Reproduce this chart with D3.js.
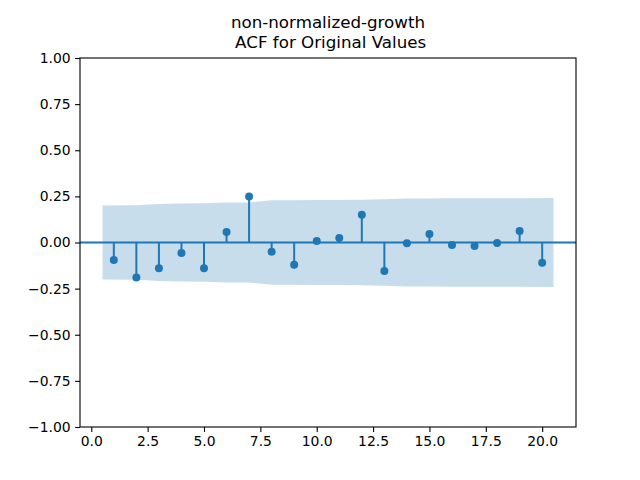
<!DOCTYPE html>
<html>
<head>
<meta charset="utf-8">
<script src="https://cdn.jsdelivr.net/npm/d3@7"></script>
<style>
  body { margin: 0; background: #fff; }
  text { font-family: "DejaVu Sans", sans-serif; white-space: pre; }
</style>
</head>
<body>
<div id="chart"></div>
<script>
// data
var lags = [1, 2, 3, 4, 5, 6, 7, 8, 9, 10, 11, 12, 13, 14, 15, 16, 17, 18, 19, 20];
var acfValues = [-0.095, -0.19, -0.14, -0.057, -0.14, 0.057, 0.25, -0.05, -0.12, 0.008,
                 0.024, 0.15, -0.155, -0.004, 0.046, -0.014, -0.019, -0.003, 0.062, -0.11];
// half width of the confidence band at each lag
var bandValues = [0.200, 0.202, 0.209, 0.212, 0.213, 0.217, 0.217, 0.229, 0.229, 0.231,
                  0.231, 0.232, 0.235, 0.239, 0.239, 0.240, 0.240, 0.240, 0.240, 0.241];
var xTicks = [0, 2.5, 5, 7.5, 10, 12.5, 15, 17.5, 20];
var yTicks = [-1, -0.75, -0.5, -0.25, 0, 0.25, 0.5, 0.75, 1];
var titleLines = ["non-normalized-growth", " ACF for Original Values"];

var width = 640, height = 480;
var margin = {top: 58, right: 64, bottom: 53, left: 80};
var blue = "#1f77b4";

var svg = d3.select("#chart")
            .append("svg")
            .attr("width", width)
            .attr("height", height);

var xScale = d3.scaleLinear()
               .domain([-0.5, 21.5])
               .range([margin.left, width - margin.right]);

var yScale = d3.scaleLinear()
               .domain([-1, 1])
               .range([height - margin.bottom, margin.top]);

// confidence band: first and last lag pushed out by half a step
var bandData = lags.map(function(l, i) {
  var x = l;
  if (i === 0) x = l - 0.5;
  if (i === lags.length - 1) x = l + 0.5;
  return {x: x, b: bandValues[i]};
});

var area = d3.area()
             .x(d => xScale(d.x))
             .y0(d => yScale(-d.b))
             .y1(d => yScale(d.b));

var points = lags.map((l, i) => ({lag: l, v: acfValues[i]}));

// stems
svg.append("g")
   .selectAll("line")
   .data(points)
   .enter()
   .append("line")
   .attr("x1", d => xScale(d.lag))
   .attr("x2", d => xScale(d.lag))
   .attr("y1", yScale(0))
   .attr("y2", d => yScale(d.v))
   .attr("stroke", blue)
   .attr("stroke-width", 2);

svg.append("path")
   .datum(bandData)
   .attr("d", area)
   .attr("fill", blue)
   .attr("fill-opacity", 0.25);

// zero line
svg.append("line")
   .attr("x1", margin.left)
   .attr("x2", width - margin.right)
   .attr("y1", yScale(0))
   .attr("y2", yScale(0))
   .attr("stroke", blue)
   .attr("stroke-width", 2);

svg.append("g")
   .selectAll("circle")
   .data(points)
   .enter()
   .append("circle")
   .attr("cx", d => xScale(d.lag))
   .attr("cy", d => yScale(d.v))
   .attr("r", 4)
   .attr("fill", blue);

// axes
var xAxis = d3.axisBottom(xScale)
              .tickValues(xTicks)
              .tickFormat(d3.format(".1f"))
              .tickSizeOuter(0)
              .tickSize(4.9)
              .tickPadding(4.5);

var yAxis = d3.axisLeft(yScale)
              .tickValues(yTicks)
              .tickFormat(d => d3.format(".2f")(d).replace("-", "\u2212"))
              .tickSizeOuter(0)
              .tickSize(4.9)
              .tickPadding(4.5);

var gx = svg.append("g")
            .attr("transform", `translate(0,${height - margin.bottom})`)
            .call(xAxis);

var gy = svg.append("g")
            .attr("transform", `translate(${margin.left},0)`)
            .call(yAxis);

[gx, gy].forEach(function(g) {
  g.select(".domain").remove();
  g.selectAll(".tick line").attr("stroke", "#000").attr("stroke-width", 1.1);
  g.selectAll(".tick text").attr("font-size", "13.9px").attr("fill", "#000")
   .attr("font-family", "DejaVu Sans");
});

// frame
svg.append("rect")
   .attr("x", margin.left)
   .attr("y", margin.top)
   .attr("width", width - margin.left - margin.right)
   .attr("height", height - margin.top - margin.bottom)
   .attr("fill", "none")
   .attr("stroke", "#000")
   .attr("stroke-width", 1.1);

// title
var title = svg.append("text")
               .attr("text-anchor", "middle")
               .attr("font-size", "16.7px")
               .attr("fill", "#000");

titleLines.forEach(function(t, i) {
  title.append("tspan")
       .attr("x", (margin.left + width - margin.right) / 2)
       .attr("y", 28 + i * 20)
       .text(t);
});
</script>
</body>
</html>
